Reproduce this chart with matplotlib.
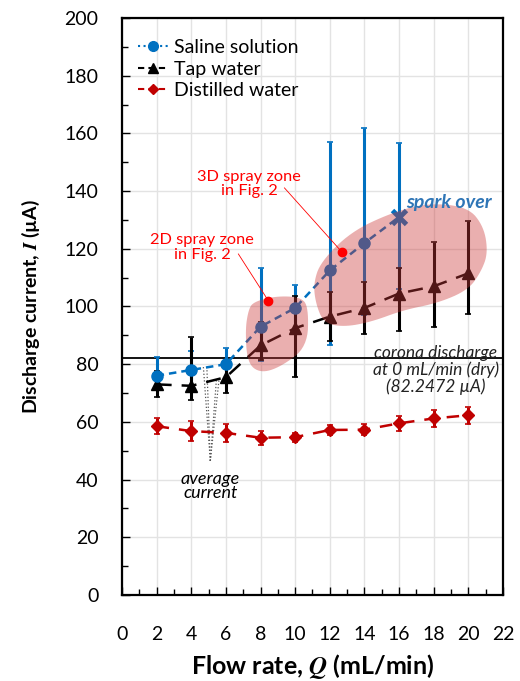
import numpy as np
import matplotlib
matplotlib.use('Agg')
import matplotlib.pyplot as plt
from matplotlib.patches import Polygon

plt.rcParams['font.family'] = ['Lato', 'DejaVu Sans']
plt.rcParams['mathtext.fontset'] = 'stix'

# data
flow = [2, 4, 6, 8, 10, 12, 14, 16, 18, 20]

saline_x = [2, 4, 6, 8, 10, 12, 14, 16]
saline_y = [76, 78, 80, 93, 99.5, 112.5, 122, 131]
saline_lo = [5, 6, 5, 12, 8, 26, 25, 25]
saline_hi = [6.5, 6.5, 5.5, 20.5, 8, 44.5, 40, 25.5]

tap_y = [73, 72.5, 75.5, 86.5, 92.5, 96.5, 99.5, 104.5, 107, 111.5]
tap_lo = [4.5, 5, 5.5, 5, 17, 8.5, 9, 13, 14, 14]
tap_hi = [4.5, 17, 5, 8, 11, 8.5, 9, 9, 15.5, 18]

dist_y = [58.5, 56.8, 56.2, 54.5, 54.7, 57.2, 57.3, 59.5, 61.2, 62.3]
dist_err = [2.8, 3.5, 3, 2.5, 1.5, 1.8, 2, 2.5, 3, 3]

corona = 82.2472

# shaded spray zones (data coords)
zone_2d = [(7.59, 101.6), (8.86, 103.6), (10.31, 103.3), (10.77, 99.8),
           (10.71, 86.0), (9.15, 79.0), (7.99, 76.9), (7.24, 80.4),
           (7.12, 91.9), (7.30, 98.8)]
zone_3d = [(11.06, 108.1), (11.47, 115.4), (13.20, 125.8), (15.52, 132.4),
           (17.66, 135.9), (19.98, 134.5), (20.90, 127.6), (21.13, 118.5),
           (20.73, 112.0), (19.98, 105.7), (18.24, 101.2), (16.27, 98.8),
           (14.36, 94.6), (12.80, 92.9), (11.64, 94.3), (11.18, 101.2)]

# dotted pointer lines for "average current"
avg_tip = (5.1, 46.5)
avg_ends = [(4.7, 79), (4.9, 79), (5.45, 74.5), (5.6, 74.5)]

BLUE = '#0070C0'
RED = '#C00000'


def smooth(pts, n=3):
    pts = np.array(pts)
    for _ in range(n):
        a = pts
        b = np.roll(pts, -1, axis=0)
        q = 0.75 * a + 0.25 * b
        r = 0.25 * a + 0.75 * b
        pts = np.empty((2 * len(a), 2))
        pts[0::2] = q
        pts[1::2] = r
    return pts


fig = plt.figure(figsize=(5.2, 6.81), dpi=100)
ax = fig.add_axes([0.2346, 0.1263, 0.7327, 0.8473])

ax.axhline(corona, color='black', lw=1.3, zorder=2)

# saline
ax.errorbar(saline_x, saline_y, yerr=[saline_lo, saline_hi], fmt='none',
            ecolor=BLUE, elinewidth=2.2, capsize=2.5, capthick=1.2, zorder=3)
ax.plot(saline_x, saline_y, color=BLUE, ls=(0, (3, 2)), lw=1.8, zorder=4)
ax.plot(saline_x[:-1], saline_y[:-1], 'o', color=BLUE, ms=8, zorder=5)
ax.plot(saline_x[-1:], saline_y[-1:], 'x', color=BLUE, ms=10, mew=3.5, zorder=5)

# tap
ax.errorbar(flow, tap_y, yerr=[tap_lo, tap_hi], fmt='none',
            ecolor='black', elinewidth=2.2, capsize=2.5, capthick=1.2, zorder=3)
ax.plot(flow, tap_y, color='black', ls=(0, (6, 4)), lw=1.8, marker='^',
        ms=8, zorder=4)

# distilled
ax.errorbar(flow, dist_y, yerr=dist_err, fmt='none',
            ecolor=RED, elinewidth=2.2, capsize=2.5, capthick=1.2, zorder=3)
ax.plot(flow, dist_y, color=RED, ls=(0, (5, 4)), lw=1.8, marker='D',
        ms=6.5, zorder=4)

# legend proxies
h1, = ax.plot([], [], color=BLUE, ls=':', lw=1.5, marker='o', ms=7)
h2, = ax.plot([], [], color='black', ls=(0, (3, 2)), lw=1.5, marker='^', ms=7)
h3, = ax.plot([], [], color=RED, ls=(0, (3, 2)), lw=1.5, marker='D', ms=5.5)
ax.legend([h1, h2, h3], ['Saline solution', 'Tap water', 'Distilled water'],
          loc='upper left', frameon=False, fontsize=14, handlelength=1.6,
          handletextpad=0.3, labelspacing=0.22, borderaxespad=0.4,
          bbox_to_anchor=(0.0, 0.99))

# zones on top with transparency
for zone in (zone_2d, zone_3d):
    ax.add_patch(Polygon(smooth(zone), closed=True, facecolor=(0.80, 0.22, 0.22),
                         alpha=0.4, edgecolor='none', zorder=6))

# annotations
ax.plot([8.45], [102], 'o', color='red', ms=6, zorder=7)
ax.plot([12.68], [119], 'o', color='red', ms=6, zorder=7)
ax.plot([6.72, 8.45], [118.2, 102], color='red', lw=0.6, zorder=7)
ax.plot([9.38, 12.68], [141.1, 119], color='red', lw=0.6, zorder=7)
ax.text(4.63, 120.5, '2D spray zone\nin Fig. 2', color='red', fontsize=11.8,
        ha='center', va='center', linespacing=1.05)
ax.text(7.35, 142.5, '3D spray zone\nin Fig. 2', color='red', fontsize=11.8,
        ha='center', va='center', linespacing=1.05)
ax.text(18.9, 136.2, 'spark over', color='#2E75B6', fontsize=14,
        fontweight='bold', fontstyle='italic', ha='center', va='center', zorder=8)
ax.text(18.12, 78, 'corona discharge\nat 0 mL/min (dry)\n(82.2472 µA)',
        fontsize=12.5, fontstyle='italic', ha='center', va='center',
        linespacing=1.05, color='#222222')

for ex, ey in avg_ends:
    ax.plot([avg_tip[0], ex], [avg_tip[1], ey], color='#555555', ls=':',
            lw=0.9, zorder=3)
ax.text(5.1, 37.8, 'average\ncurrent', fontsize=13, fontstyle='italic',
        ha='center', va='center', linespacing=0.9)

ax.set_xlim(0, 22)
ax.set_ylim(0, 200)
ax.set_xticks(range(0, 23, 2))
ax.set_xticks(range(0, 23, 1), minor=True)
ax.set_yticks(range(0, 201, 20))
ax.set_yticks(range(0, 201, 10), minor=True)
ax.grid(True, which='major', color='#e3e3e3', lw=1.0, zorder=0)
ax.set_axisbelow(True)
ax.tick_params(which='both', direction='in', labelsize=14, width=1.0)
ax.tick_params(which='major', length=6)
ax.tick_params(which='minor', length=4)
ax.tick_params(axis='y', pad=17)
ax.tick_params(axis='x', pad=22)
for sp in ax.spines.values():
    sp.set_linewidth(1.6)

ax.set_xlabel('Flow rate, $\\mathbfit{Q}$ (mL/min)', fontsize=18,
              fontweight='bold', labelpad=7)
ax.set_ylabel('Discharge current, $\\mathbfit{I}$ (µA)', fontsize=14,
              fontweight='bold', labelpad=16)

fig.savefig('out.png', dpi=100)
